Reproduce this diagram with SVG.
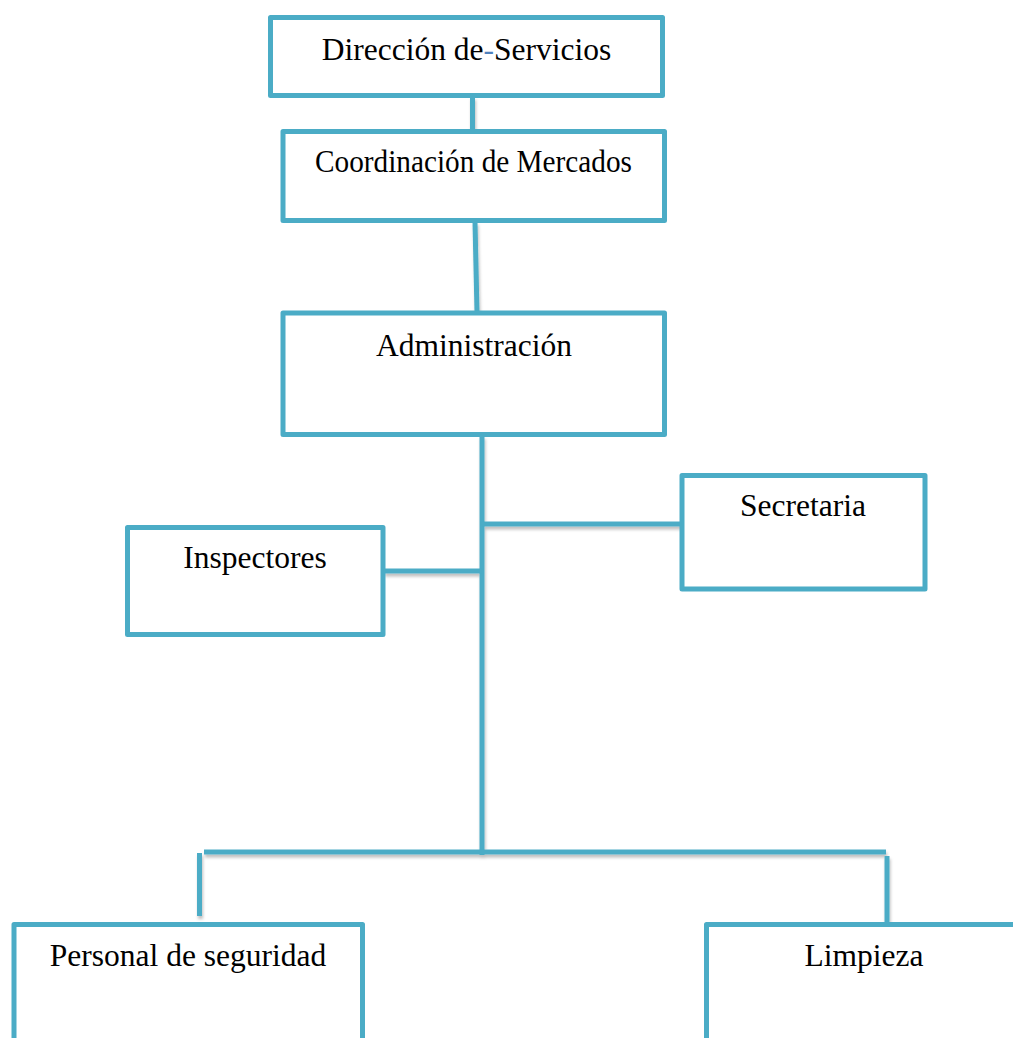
<svg xmlns="http://www.w3.org/2000/svg" width="1013" height="1038" viewBox="0 0 1013 1038">
  <style>
    .box { fill: #ffffff; stroke: #4bacc6; stroke-width: 5; stroke-linejoin: round; }
    .lbl { font-family: "Liberation Serif", "Times New Roman", serif; font-size: 31.5px; fill: #000000; text-anchor: middle; }
    .wire { stroke: #4bacc6; stroke-width: 5; fill: none; }
  </style>
  <defs>
    <filter id="shade" filterUnits="userSpaceOnUse" x="0" y="0" width="1013" height="1038">
      <feDropShadow dx="1" dy="3" stdDeviation="1.5" flood-color="#000000" flood-opacity="0.25"/>
    </filter>
  </defs>
  <rect width="1013" height="1038" fill="#ffffff"/>

  <!-- connectors -->
  <g id="connectors" filter="url(#shade)">
    <line class="wire" x1="472.5" y1="97" x2="472.5" y2="130"/>
    <line class="wire" x1="475" y1="222" x2="477" y2="312"/>
    <line class="wire" x1="482" y1="436" x2="482" y2="855"/>
    <line class="wire" x1="482" y1="524" x2="681" y2="524"/>
    <line class="wire" x1="384" y1="571" x2="482" y2="571"/>
    <line class="wire" x1="204" y1="852" x2="886" y2="852"/>
    <line class="wire" x1="199.5" y1="853" x2="199.5" y2="916"/>
    <line class="wire" x1="887" y1="856" x2="887" y2="923"/>
  </g>

  <!-- nodes -->
  <g id="direccion">
    <rect class="box" x="270.5" y="17.5" width="392" height="78"/>
    <text class="lbl" x="466.5" y="60">Dirección de<tspan fill="#4f81bd">-</tspan>Servicios</text>
  </g>
  <g id="coordinacion">
    <rect class="box" x="283" y="131.5" width="381.5" height="89"/>
    <text class="lbl" x="473.5" y="172" font-size="29.5" textLength="317" lengthAdjust="spacingAndGlyphs">Coordinación de Mercados</text>
  </g>
  <g id="administracion">
    <rect class="box" x="283" y="313" width="381.5" height="121.5"/>
    <text class="lbl" x="474" y="356">Administración</text>
  </g>
  <g id="secretaria">
    <rect class="box" x="682" y="475.5" width="243" height="113.5"/>
    <text class="lbl" x="803" y="516">Secretaria</text>
  </g>
  <g id="inspectores">
    <rect class="box" x="127.5" y="527.5" width="255.5" height="107"/>
    <text class="lbl" x="255" y="568">Inspectores</text>
  </g>
  <g id="seguridad">
    <rect class="box" x="14" y="924.5" width="348.5" height="140"/>
    <text class="lbl" x="188" y="966">Personal de seguridad</text>
  </g>
  <g id="limpieza">
    <rect class="box" x="706.5" y="924.5" width="340" height="140"/>
    <text class="lbl" x="864" y="966">Limpieza</text>
  </g>
</svg>
